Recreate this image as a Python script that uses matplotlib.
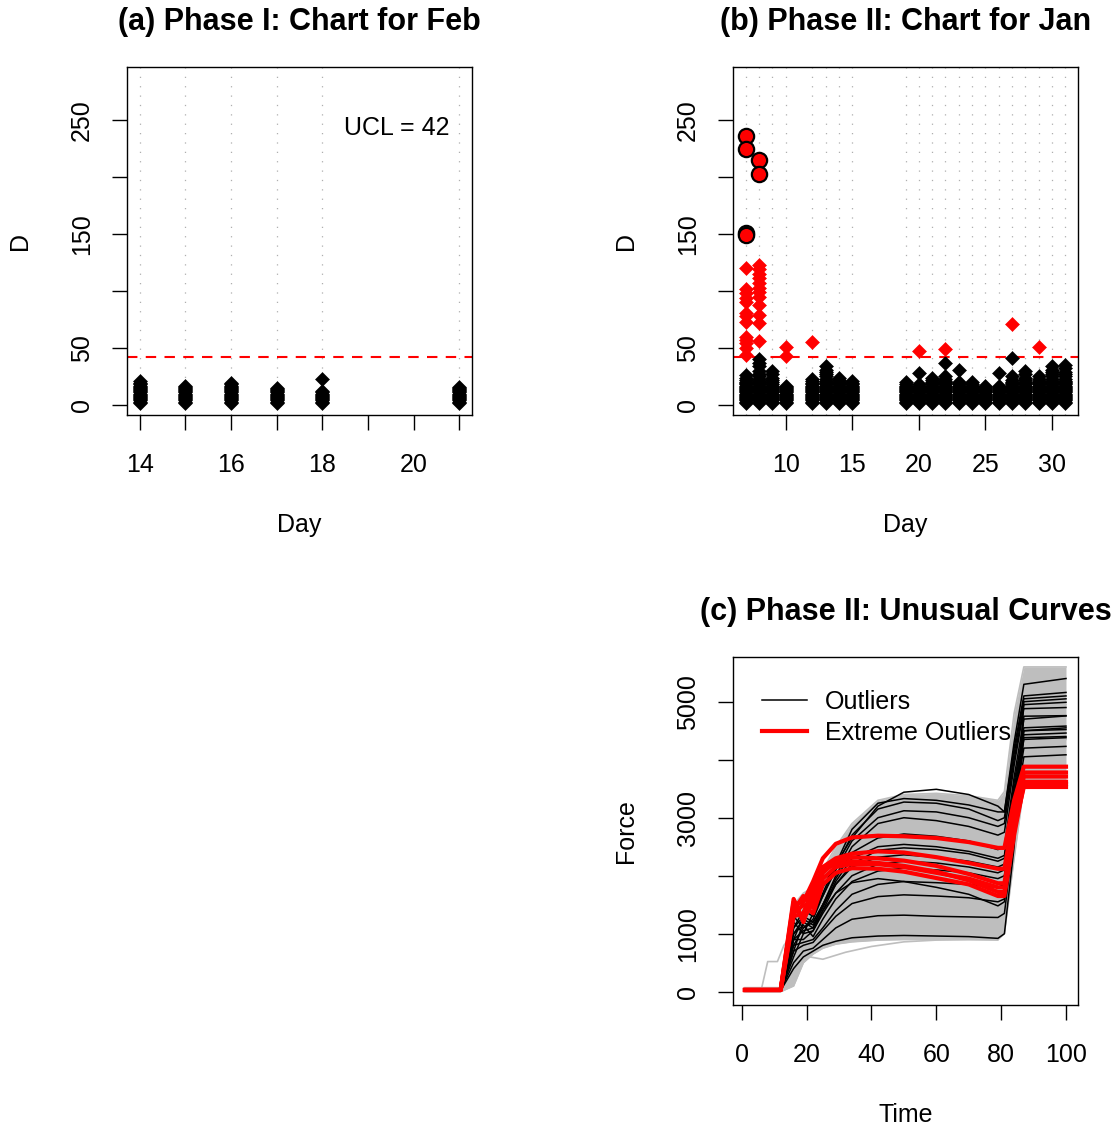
import matplotlib.pyplot as plt
from matplotlib.lines import Line2D

plt.rcParams['font.family'] = ['Liberation Sans', 'DejaVu Sans']

UCL = 42

# Phase I (February): D values per day
feb_days = [14, 15, 16, 17, 18, 21]
feb_D = [
    [2, 3, 4, 5, 6, 7, 8, 9, 10, 11, 12, 13, 14, 15, 16, 17, 18, 19, 21],
    [2, 3, 4, 5, 6, 7, 8, 9, 10, 11, 12, 13, 14, 15, 16, 17],
    [2, 3, 4, 5, 6, 7, 8, 9, 10, 11, 12, 13, 14, 15, 16, 17, 18, 19],
    [2, 3, 4, 5, 6, 7, 8, 9, 10, 11, 12, 13, 14, 15],
    [2, 3, 4, 5, 6, 7, 8, 9, 10, 11, 12, 23],
    [2, 3, 4, 5, 6, 7, 8, 9, 10, 11, 12, 13, 14, 15, 16],
]

# Phase II (January): in-control D values per day
jan_days = [7, 8, 9, 10, 12, 13, 14, 15, 19, 20, 21, 22, 23, 24, 25, 26, 27, 28, 29, 30, 31]
jan_D = [
    [2, 3, 4, 5, 6, 7, 8, 9, 10, 11, 12, 13, 14, 15, 16, 17, 18, 19, 20, 22, 24, 26],
    [2, 3, 4, 5, 6, 7, 8, 9, 10, 11, 12, 13, 14, 15, 16, 17, 18, 19, 20, 21, 23, 25, 27, 30, 34, 37, 40],
    [2, 3, 4, 5, 6, 7, 8, 9, 10, 11, 12, 13, 14, 15, 16, 17, 18, 20, 22, 24, 27, 30],
    [2, 3, 4, 5, 6, 7, 8, 9, 10, 11, 12, 13, 14, 15, 16, 17],
    [2, 3, 4, 5, 6, 7, 8, 9, 10, 11, 12, 13, 14, 15, 16, 17, 18, 19, 21, 23],
    [2, 3, 4, 5, 6, 7, 8, 9, 10, 11, 12, 13, 14, 15, 16, 17, 18, 19, 20, 21, 23, 25, 27, 29, 31, 34],
    [2, 3, 4, 5, 6, 7, 8, 9, 10, 11, 12, 13, 14, 15, 16, 17, 18, 19, 20, 22, 24],
    [2, 3, 4, 5, 6, 7, 8, 9, 10, 11, 12, 13, 14, 15, 16, 17, 18, 19, 21],
    [2, 3, 4, 5, 6, 7, 8, 9, 10, 11, 12, 13, 14, 15, 16, 17, 18, 20],
    [2, 3, 4, 5, 6, 7, 8, 9, 10, 11, 12, 13, 14, 15, 16, 17, 18, 28],
    [2, 3, 4, 5, 6, 7, 8, 9, 10, 11, 12, 13, 14, 15, 16, 17, 18, 19, 20, 22, 24],
    [2, 3, 4, 5, 6, 7, 8, 9, 10, 11, 12, 13, 14, 15, 16, 17, 18, 19, 20, 21, 23, 25, 37],
    [2, 3, 4, 5, 6, 7, 8, 9, 10, 11, 12, 13, 14, 15, 16, 17, 18, 19, 20, 31],
    [2, 3, 4, 5, 6, 7, 8, 9, 10, 11, 12, 13, 14, 15, 16, 17, 18, 20],
    [2, 3, 4, 5, 6, 7, 8, 9, 10, 11, 12, 13, 14, 15, 16, 17],
    [2, 3, 4, 5, 6, 7, 8, 9, 10, 11, 12, 13, 14, 15, 16, 17, 28],
    [2, 3, 4, 5, 6, 7, 8, 9, 10, 11, 12, 13, 14, 15, 16, 17, 18, 19, 20, 22, 25, 41],
    [2, 3, 4, 5, 6, 7, 8, 9, 10, 11, 12, 13, 14, 15, 16, 17, 18, 19, 20, 22, 24, 27, 30],
    [2, 3, 4, 5, 6, 7, 8, 9, 10, 11, 12, 13, 14, 15, 16, 17, 18, 19, 20, 21, 23, 25],
    [2, 3, 4, 5, 6, 7, 8, 9, 10, 11, 12, 13, 14, 15, 16, 17, 18, 19, 20, 21, 23, 25, 27, 29, 31, 34],
    [2, 3, 4, 5, 6, 7, 8, 9, 10, 11, 12, 13, 14, 15, 16, 17, 18, 19, 20, 21, 23, 25, 27, 29, 32, 35],
]

# Phase II: days with D above the UCL
ooc_days = [7, 8, 10, 12, 20, 22, 27, 29]
ooc_D = [
    [120, 102, 98, 94, 90, 81, 78, 73, 60, 57, 54, 50, 44],
    [123, 119, 115, 111, 107, 103, 99, 95, 88, 79, 72, 56],
    [51, 43],
    [55],
    [47],
    [49],
    [71],
    [51],
]

# Phase II: extreme outliers
ext_day = [7, 7, 7, 7, 8, 8]
ext_D = [236, 225, 151, 149, 215, 203]

# Force curves, sampled at common time points
curve_time = [1, 12, 16, 19, 22, 25, 29, 34, 42, 50, 60, 70, 79, 81, 84, 87, 100]

band_hi = [70, 70, 1500, 1700, 1800, 2100, 2500, 2900, 3300, 3400, 3420, 3380, 3300, 3450, 4800, 5600, 5600]
band_lo = [0, 0, 100, 500, 650, 750, 820, 860, 890, 900, 900, 900, 900, 1000, 2300, 3530, 3530]

gray1_time = [1, 6, 8, 11, 13, 16, 19, 25, 35, 50, 65, 79, 81, 85, 88, 100]
gray1 = [30, 30, 520, 520, 800, 1000, 1100, 1300, 1500, 1600, 1600, 1550, 1700, 4000, 4900, 4950]
gray2_time = [1, 12, 15, 18, 21, 25, 32, 40, 50, 60, 70, 79, 81, 85, 88, 100]
gray2 = [30, 30, 500, 800, 600, 560, 680, 780, 860, 890, 900, 890, 1100, 3600, 4300, 4350]

outliers = [
    [20, 20, 900, 1300, 1500, 1800, 2200, 2650, 3200, 3440, 3490, 3400, 3200, 3100, 4300, 5300, 5400],
    [20, 20, 1100, 1400, 1300, 1700, 2200, 2800, 3250, 3330, 3300, 3220, 3100, 3100, 4200, 5100, 5160],
    [20, 20, 800, 1100, 1250, 1650, 2150, 2700, 3150, 3270, 3250, 3150, 2950, 3000, 4100, 5050, 5100],
    [20, 20, 1200, 1000, 1350, 1650, 2100, 2600, 3000, 3120, 3100, 3000, 2850, 2900, 4000, 4950, 4990],
    [20, 20, 700, 1200, 1100, 1500, 2000, 2500, 2900, 3000, 2950, 2850, 2700, 2750, 3900, 4880, 4900],
    [20, 20, 1300, 1100, 1200, 1500, 1950, 2400, 2650, 2720, 2680, 2600, 2450, 2500, 3700, 4700, 4755],
    [20, 20, 1000, 1250, 1150, 1450, 1900, 2300, 2500, 2540, 2500, 2420, 2300, 2350, 3600, 4550, 4580],
    [20, 20, 900, 900, 1050, 1400, 1850, 2200, 2440, 2480, 2450, 2380, 2250, 2300, 3500, 4500, 4520],
    [20, 20, 1100, 1300, 1200, 1500, 1850, 2150, 2320, 2360, 2320, 2250, 2150, 2200, 3400, 4430, 4460],
    [20, 20, 600, 1000, 1050, 1350, 1700, 2000, 2200, 2250, 2220, 2150, 2050, 2100, 3300, 4350, 4380],
    [20, 20, 1000, 1150, 950, 1250, 1600, 1900, 2080, 2130, 2100, 2050, 1950, 2000, 3200, 4200, 4230],
    [20, 20, 800, 850, 900, 1100, 1400, 1680, 1850, 1900, 1880, 1850, 1800, 1850, 3000, 4050, 4085],
    [20, 20, 700, 800, 850, 1050, 1300, 1520, 1640, 1670, 1650, 1620, 1550, 1600, 2900, 4500, 4550],
    [20, 20, 500, 700, 750, 900, 1100, 1250, 1310, 1320, 1300, 1290, 1280, 1350, 2700, 4750, 4760],
    [20, 20, 400, 600, 700, 800, 870, 930, 960, 970, 960, 950, 920, 1000, 2500, 5000, 5050],
    [20, 20, 900, 1050, 1100, 1400, 1700, 1880, 1950, 1900, 1800, 1680, 1480, 1550, 3000, 4380, 4400],
]

extreme = [
    [30, 30, 1500, 1550, 1900, 2300, 2550, 2660, 2690, 2680, 2650, 2580, 2480, 2480, 3300, 3880, 3880],
    [30, 30, 1600, 1200, 1700, 2150, 2300, 2380, 2420, 2400, 2320, 2220, 2120, 2120, 3100, 3780, 3780],
    [30, 30, 1400, 1650, 1450, 2050, 2250, 2320, 2300, 2260, 2170, 2030, 1870, 1870, 2900, 3710, 3710],
    [30, 30, 1300, 1350, 1800, 2100, 2200, 2250, 2220, 2170, 2070, 1920, 1720, 1720, 2800, 3620, 3620],
    [30, 30, 1550, 1250, 1550, 1950, 2150, 2200, 2200, 2150, 2050, 1950, 1800, 1800, 2800, 3530, 3530],
    [30, 30, 1350, 1500, 1350, 1850, 2050, 2130, 2120, 2070, 1960, 1850, 1650, 1650, 2700, 3580, 3580],
]

W, H = 1120, 1131
FS = 18
GRAY = '#BEBEBE'
MS = 7.0


def box(left, top, w=345, h=348):
    return [left / W, 1 - (top + h) / H, w / W, h / H]


def r_axes(ax, title, xlabel, ylabel):
    for s in ax.spines.values():
        s.set_linewidth(1.0)
    ax.tick_params(direction='out', length=11, width=1.0, labelsize=FS)
    ax.tick_params(axis='x', pad=16)
    ax.tick_params(axis='y', pad=13)
    ax.text(0.5, 1 + 45 / 348, title, transform=ax.transAxes, ha='center',
            va='center', fontsize=22, fontweight='bold')
    ax.text(0.5, -110 / 348, xlabel, transform=ax.transAxes, ha='center',
            va='center', fontsize=FS)
    ax.text(-107 / 345, 0.5, ylabel, transform=ax.transAxes, ha='center',
            va='center', fontsize=FS, rotation=90)


def diamonds(ax, days, values, color, z):
    for d, vals in zip(days, values):
        ax.plot([d] * len(vals), vals, 'D', color=color, ms=MS, mew=0.4,
                mec=color, zorder=z)


fig = plt.figure(figsize=(11.2, 11.31), dpi=100)
ax_a = fig.add_axes(box(127, 67))
ax_b = fig.add_axes(box(733, 67))
ax_c = fig.add_axes(box(733, 657))

d_ticks = [0, 50, 100, 150, 200, 250]
d_labels = ['0', '50', '', '150', '', '250']
dot_style = dict(color='#AFAFAF', lw=0.9, ls=(0, (1, 6.5)), zorder=0)
ucl_style = dict(color='red', lw=1.5, ls=(0, (5, 4)), zorder=1)

# (a) Phase I chart
for d in feb_days:
    ax_a.axvline(d, **dot_style)
ax_a.axhline(UCL, **ucl_style)
diamonds(ax_a, feb_days, feb_D, 'black', 2)
ax_a.text(19.63, 243, 'UCL = 42', ha='center', va='center', fontsize=FS)
ax_a.set_xlim(13.72, 21.28)
ax_a.set_ylim(-8.8, 296.5)
ax_a.set_xticks(range(14, 22), ['14', '', '16', '', '18', '', '20', ''])
ax_a.set_yticks(d_ticks, d_labels, rotation=90, va='center')
r_axes(ax_a, '(a) Phase I: Chart for Feb', 'Day', 'D')

# (b) Phase II chart
for d in jan_days:
    ax_b.axvline(d, **dot_style)
ax_b.axhline(UCL, **ucl_style)
diamonds(ax_b, jan_days, jan_D, 'black', 2)
diamonds(ax_b, ooc_days, ooc_D, 'red', 3)
ax_b.plot(ext_day, ext_D, 'o', color='red', mec='black', mew=1.6, ms=11, zorder=4)
ax_b.set_xlim(6.04, 31.96)
ax_b.set_ylim(-8.8, 296.5)
ax_b.set_xticks([10, 15, 20, 25, 30])
ax_b.set_yticks(d_ticks, d_labels, rotation=90, va='center')
r_axes(ax_b, '(b) Phase II: Chart for Jan', 'Day', 'D')

# (c) force curves
ax_c.fill_between(curve_time, band_lo, band_hi, color=GRAY, lw=0, zorder=1)
ax_c.plot(curve_time, band_hi, color=GRAY, lw=1.2, zorder=1)
ax_c.plot(curve_time, band_lo, color=GRAY, lw=1.2, zorder=1)
ax_c.plot(gray1_time, gray1, color=GRAY, lw=1.2, zorder=1)
ax_c.plot(gray2_time, gray2, color=GRAY, lw=1.2, zorder=1)
for f in outliers:
    ax_c.plot(curve_time, f, color='black', lw=1.1, zorder=2)
for f in extreme:
    ax_c.plot(curve_time, f, color='red', lw=3.0, zorder=3)
ax_c.set_xlim(-2.7, 103.7)
ax_c.set_ylim(-229, 5771)
ax_c.set_xticks([0, 20, 40, 60, 80, 100])
ax_c.set_yticks([0, 1000, 2000, 3000, 4000, 5000],
                ['0', '1000', '', '3000', '', '5000'], rotation=90, va='center')
handles = [Line2D([], [], color='black', lw=1.1),
           Line2D([], [], color='red', lw=3.0)]
ax_c.legend(handles, ['Outliers', 'Extreme Outliers'], loc='upper left',
            bbox_to_anchor=(29 / 345, 1 - 33 / 348), frameon=False, fontsize=FS,
            borderpad=0, borderaxespad=0, handlelength=1.78, handletextpad=0.75,
            labelspacing=0.28)
r_axes(ax_c, '(c) Phase II: Unusual Curves', 'Time', 'Force')

fig.savefig('out.png', dpi=100)
